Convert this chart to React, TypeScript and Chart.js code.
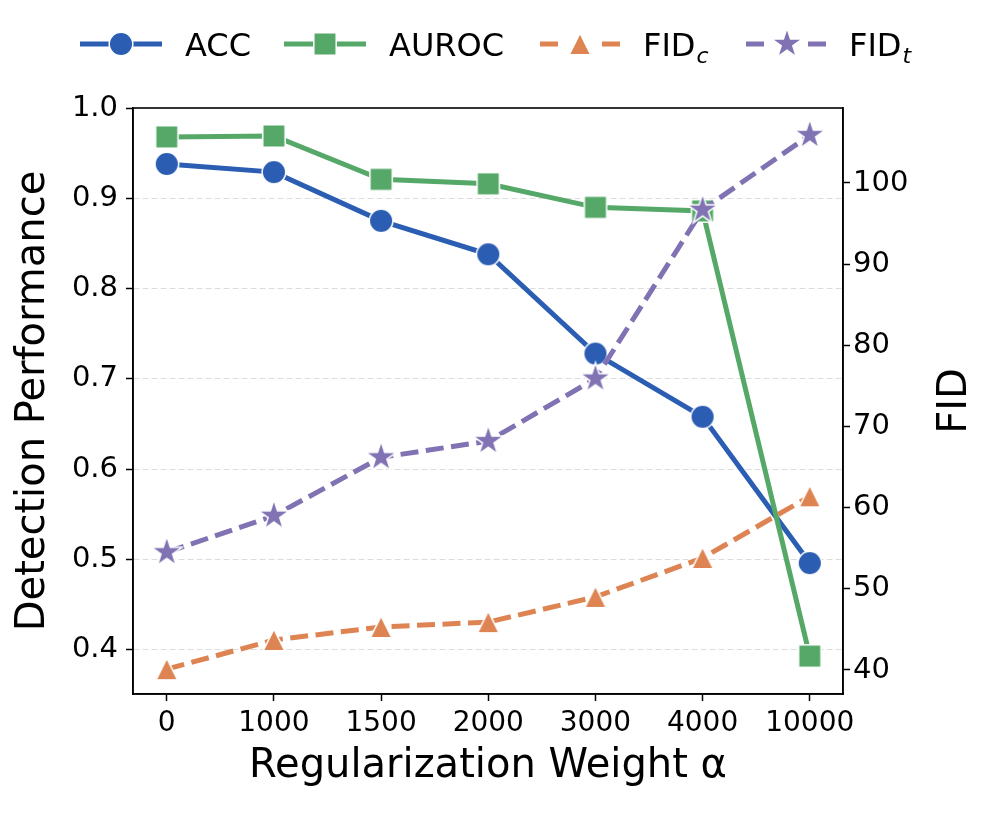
import React, { useEffect, useRef } from 'react';
import { Chart, registerables } from 'chart.js';

Chart.register(...registerables);

const xLabels = ['0', '1000', '1500', '2000', '3000', '4000', '10000'];
const accValues = [0.938, 0.929, 0.875, 0.838, 0.728, 0.658, 0.496];
const aurocValues = [0.968, 0.969, 0.921, 0.916, 0.89, 0.886, 0.393];
const fidCValues = [40.1, 43.7, 45.3, 45.9, 49.0, 53.8, 61.4];
const fidTValues = [54.5, 59.0, 66.2, 68.2, 75.9, 96.7, 105.9];
const leftTicks = [0.4, 0.5, 0.6, 0.7, 0.8, 0.9, 1.0];
const rightTicks = [40, 50, 60, 70, 80, 90, 100];

const FONT = "'DejaVu Sans', sans-serif";
const C_ACC = '#2b5db3';
const C_AUROC = '#55a868';
const C_FIDC = '#dd8452';
const C_FIDT = '#8172b3';

type Shape = 'circle' | 'square' | 'triangle' | 'star';

function makeMarker(shape: Shape, color: string): HTMLCanvasElement {
  const S = 40;
  const c = document.createElement('canvas');
  c.width = S;
  c.height = S;
  const ctx = c.getContext('2d')!;
  ctx.translate(S / 2, S / 2);
  ctx.beginPath();
  if (shape === 'circle') {
    ctx.arc(0, 0, 11.8, 0, Math.PI * 2);
  } else if (shape === 'square') {
    ctx.rect(-11.2, -11.2, 22.4, 22.4);
  } else if (shape === 'triangle') {
    ctx.moveTo(0, -10.8);
    ctx.lineTo(10.8, 10.8);
    ctx.lineTo(-10.8, 10.8);
    ctx.closePath();
  } else {
    const R = 16;
    const r = R * 0.381966;
    for (let i = 0; i < 10; i++) {
      const rad = i % 2 === 0 ? R : r;
      const a = -Math.PI / 2 + (i * Math.PI) / 5;
      const x = Math.cos(a) * rad;
      const y = Math.sin(a) * rad;
      if (i === 0) ctx.moveTo(x, y);
      else ctx.lineTo(x, y);
    }
    ctx.closePath();
  }
  ctx.fillStyle = color;
  ctx.fill();
  ctx.lineWidth = 1.5;
  ctx.strokeStyle = '#ffffff';
  ctx.lineJoin = 'miter';
  ctx.stroke();
  return c;
}

export default function App() {
  const ref = useRef<HTMLCanvasElement | null>(null);

  useEffect(() => {
    document.body.style.margin = '0';
    const canvas = ref.current;
    if (!canvas) return;

    const mAcc = makeMarker('circle', C_ACC);
    const mAuroc = makeMarker('square', C_AUROC);
    const mFidc = makeMarker('triangle', C_FIDC);
    const mFidt = makeMarker('star', C_FIDT);

    const toPts = (arr: number[]) => arr.map((v, i) => ({ x: i, y: v }));
    const DASH = [18, 7.5];
    const LW = 5;

    const legendItems = [
      { label: 'ACC', sub: '', color: C_ACC, marker: mAcc, dash: [] as number[], x1: 80, x2: 162, tx: 185 },
      { label: 'AUROC', sub: '', color: C_AUROC, marker: mAuroc, dash: [] as number[], x1: 284, x2: 366, tx: 389 },
      { label: 'FID', sub: 'c', color: C_FIDC, marker: mFidc, dash: [18, 14, 18, 14, 18] as number[], x1: 540, x2: 620, tx: 643 },
      { label: 'FID', sub: 't', color: C_FIDT, marker: mFidt, dash: [18, 14, 18, 14, 18] as number[], x1: 746, x2: 828, tx: 849 },
    ];

    const extras = {
      id: 'extras',
      afterDatasetsDraw(chart: any) {
        const { ctx, chartArea } = chart;
        ctx.save();
        ctx.strokeStyle = '#000';
        ctx.lineWidth = 1.6;
        ctx.setLineDash([]);
        ctx.strokeRect(chartArea.left, chartArea.top, chartArea.right - chartArea.left, chartArea.bottom - chartArea.top);
        ctx.restore();
      },
      afterDraw(chart: any) {
        const { ctx } = chart;
        ctx.save();
        const ly = 44;
        legendItems.forEach((it) => {
          ctx.beginPath();
          ctx.strokeStyle = it.color;
          ctx.lineWidth = LW;
          ctx.lineCap = 'butt';
          ctx.setLineDash(it.dash.length ? [18, 44] : []);
          ctx.moveTo(it.x1, ly);
          ctx.lineTo(it.x2, ly);
          ctx.stroke();
          ctx.setLineDash([]);
          const cx = (it.x1 + it.x2) / 2;
          ctx.drawImage(it.marker, cx - it.marker.width / 2, ly - it.marker.height / 2);
          ctx.fillStyle = '#000';
          ctx.textBaseline = 'alphabetic';
          ctx.textAlign = 'left';
          ctx.font = `32px ${FONT}`;
          ctx.fillText(it.label, it.tx, 56);
          if (it.sub) {
            const w = ctx.measureText(it.label).width;
            ctx.font = `italic 22px ${FONT}`;
            ctx.fillText(it.sub, it.tx + w + 1, 63);
          }
        });
        ctx.translate(956, 401);
        ctx.rotate(-Math.PI / 2);
        ctx.font = `40px ${FONT}`;
        ctx.textAlign = 'center';
        ctx.textBaseline = 'middle';
        ctx.fillStyle = '#000';
        ctx.fillText('FID', 0, 0);
        ctx.restore();
      },
    };

    const chart = new Chart(canvas, {
      type: 'line',
      data: {
        datasets: [
          {
            label: 'ACC',
            data: toPts(accValues),
            borderColor: C_ACC,
            backgroundColor: C_ACC,
            borderWidth: LW,
            pointStyle: mAcc as any,
            pointRadius: 6,
            yAxisID: 'y',
            order: 4,
            tension: 0,
          },
          {
            label: 'AUROC',
            data: toPts(aurocValues),
            borderColor: C_AUROC,
            backgroundColor: C_AUROC,
            borderWidth: LW,
            pointStyle: mAuroc as any,
            pointRadius: 6,
            yAxisID: 'y',
            order: 3,
            tension: 0,
          },
          {
            label: 'FID_c',
            data: toPts(fidCValues),
            borderColor: C_FIDC,
            backgroundColor: C_FIDC,
            borderWidth: LW,
            borderDash: DASH,
            pointStyle: mFidc as any,
            pointRadius: 6,
            yAxisID: 'y2',
            order: 2,
            tension: 0,
          },
          {
            label: 'FID_t',
            data: toPts(fidTValues),
            borderColor: C_FIDT,
            backgroundColor: C_FIDT,
            borderWidth: LW,
            borderDash: DASH,
            pointStyle: mFidt as any,
            pointRadius: 6,
            yAxisID: 'y2',
            order: 1,
            tension: 0,
          },
        ],
      },
      options: {
        animation: false,
        responsive: false,
        devicePixelRatio: 1,
        events: [],
        layout: { padding: { top: 108, left: 0, right: 0, bottom: 0 } },
        plugins: {
          legend: { display: false },
          tooltip: { enabled: false },
          title: { display: false },
        },
        scales: {
          x: {
            type: 'linear',
            position: 'bottom',
            min: -0.315,
            max: 6.31,
            afterBuildTicks: (scale: any) => {
              scale.ticks = xLabels.map((_, i) => ({ value: i }));
            },
            afterFit: (scale: any) => {
              scale.height = 120;
            },
            ticks: {
              autoSkip: false,
              maxRotation: 0,
              color: '#000',
              font: { family: FONT, size: 28 },
              padding: 6,
              callback: (v: any) => xLabels[Math.round(Number(v))] ?? '',
            },
            grid: {
              drawOnChartArea: false,
              drawTicks: true,
              tickLength: 7,
              tickColor: '#000',
              tickWidth: 1.5,
            },
            border: { display: true, color: '#000', width: 1.6 },
            title: {
              display: true,
              text: 'Regularization Weight α',
              color: '#000',
              font: { family: FONT, size: 40 },
              padding: { top: 0, bottom: 23 },
            },
          },
          y: {
            type: 'linear',
            position: 'left',
            min: 0.351,
            max: 1.0,
            afterBuildTicks: (scale: any) => {
              scale.ticks = leftTicks.map((v) => ({ value: v }));
            },
            afterFit: (scale: any) => {
              scale.width = 133;
            },
            ticks: {
              color: '#000',
              font: { family: FONT, size: 29 },
              padding: 8,
              callback: (v: any) => Number(v).toFixed(1),
            },
            grid: {
              drawOnChartArea: true,
              drawTicks: true,
              tickLength: 7,
              tickColor: '#000',
              tickWidth: 1.5,
              lineWidth: 1,
              color: (ctx: any) => (ctx.tick && ctx.tick.value >= 0.999 ? 'rgba(0,0,0,0)' : '#dddddd'),
            },
            border: { display: true, color: '#000', width: 1.6, dash: [6, 3] },
            title: {
              display: true,
              text: 'Detection Performance',
              color: '#000',
              font: { family: FONT, size: 40 },
              padding: { top: 10, bottom: 0 },
            },
          },
          y2: {
            type: 'linear',
            position: 'right',
            min: 37.04,
            max: 109.24,
            afterBuildTicks: (scale: any) => {
              scale.ticks = rightTicks.map((v) => ({ value: v }));
            },
            afterFit: (scale: any) => {
              scale.width = 154;
            },
            ticks: {
              color: '#000',
              font: { family: FONT, size: 29 },
              padding: 3,
              callback: (v: any) => String(v),
            },
            grid: {
              drawOnChartArea: false,
              drawTicks: true,
              tickLength: 7,
              tickColor: '#000',
              tickWidth: 1.5,
            },
            border: { display: true, color: '#000', width: 1.6 },
          },
        },
      } as any,
      plugins: [extras],
    });

    return () => {
      chart.destroy();
    };
  }, []);

  return (
    <div style={{ width: 997, height: 814, position: 'relative', background: '#fff' }}>
      <canvas ref={ref} width={997} height={814} style={{ width: 997, height: 814, display: 'block' }} />
    </div>
  );
}
